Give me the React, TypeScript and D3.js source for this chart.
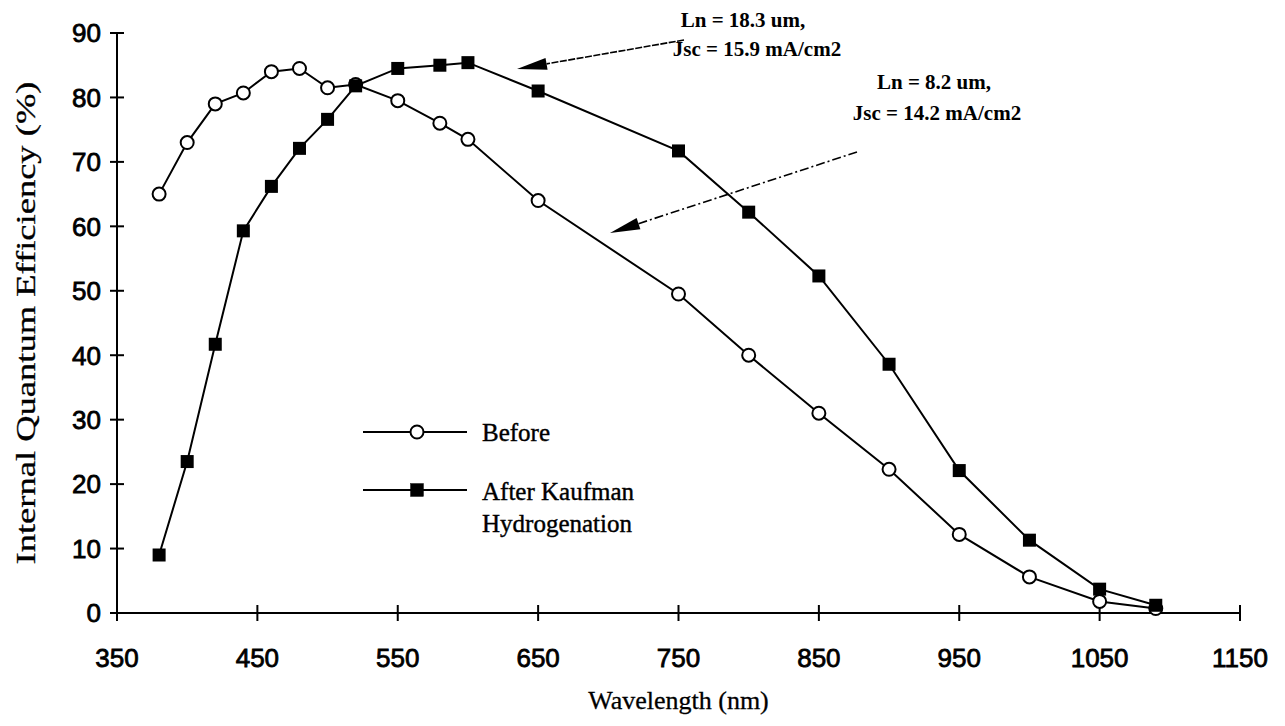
import React from 'react';
import * as d3 from 'd3';

// wavelength (nm) of each measurement
const wavelengths = [380, 400, 420, 440, 460, 480, 500, 520, 550, 580, 600, 650, 750, 800, 850, 900, 950, 1000, 1050, 1090];
// IQE (%) before hydrogenation
const before = [65, 73, 79, 80.7, 84, 84.5, 81.5, 82, 79.5, 76, 73.5, 64, 49.5, 40, 31, 22.3, 12.2, 5.6, 1.8, 0.7];
// IQE (%) after Kaufman hydrogenation
const after = [9, 23.5, 41.7, 59.3, 66.2, 72.1, 76.6, 81.8, 84.5, 85, 85.4, 81, 71.7, 62.2, 52.3, 38.6, 22.1, 11.3, 3.7, 1.2];

const xTicks = [350, 450, 550, 650, 750, 850, 950, 1050, 1150];
const yTicks = [0, 10, 20, 30, 40, 50, 60, 70, 80, 90];

const serif = '"Liberation Serif", "Times New Roman", serif';
const sans = '"Liberation Sans", Arial, sans-serif';

// arrow from (x1,y1) to tip (x2,y2) with a long filled head
function Arrow({ x1, y1, x2, y2, dash }: { x1: number; y1: number; x2: number; y2: number; dash: string }) {
  const a = Math.atan2(y2 - y1, x2 - x1);
  const len = 30;
  const hw = 6;
  const bx = x2 - len * Math.cos(a);
  const by = y2 - len * Math.sin(a);
  const px = -Math.sin(a) * hw;
  const py = Math.cos(a) * hw;
  return (
    <g>
      <line x1={x1} y1={y1} x2={bx} y2={by} stroke="#000" strokeWidth={1.6} strokeDasharray={dash} />
      <path d={`M${x2},${y2} L${bx + px},${by + py} L${bx - px},${by - py} Z`} fill="#000" />
    </g>
  );
}

export default function App() {
  const width = 1285;
  const height = 726;

  const x = d3.scaleLinear().domain([350, 1150]).range([117, 1240]);
  const y = d3.scaleLinear().domain([0, 90]).range([613, 33]);

  const line = d3
    .line<number>()
    .x((_, i) => x(wavelengths[i]))
    .y((d) => y(d));

  return (
    <svg
      width={width}
      height={height}
      style={{ position: 'absolute', left: 0, top: 0, background: '#fff' }}
    >
      {/* axes */}
      <g stroke="#000" strokeWidth={2} fill="none">
        <line x1={x(350)} x2={x(350)} y1={y(90)} y2={y(0)} />
        <line x1={x(350)} x2={x(1150)} y1={y(0)} y2={y(0)} />
        {yTicks.map((t) => (
          <line key={'yt' + t} x1={x(350) - 7} x2={x(350) + 7} y1={y(t)} y2={y(t)} />
        ))}
        {xTicks.map((t) => (
          <line key={'xt' + t} x1={x(t)} x2={x(t)} y1={y(0) - 8} y2={y(0) + 8} />
        ))}
      </g>
      <g fontFamily={sans} fontSize={26} fill="#000" stroke="#000" strokeWidth={0.8}>
        {yTicks.map((t) => (
          <text key={'yl' + t} x={x(350) - 16} y={y(t)} dy="0.36em" textAnchor="end">
            {t}
          </text>
        ))}
        {xTicks.map((t) => (
          <text key={'xl' + t} x={x(t)} y={y(0) + 54} textAnchor="middle">
            {t}
          </text>
        ))}
      </g>
      <text
        transform={`translate(35, ${(y(0) + y(90)) / 2}) rotate(-90)`}
        textAnchor="middle"
        fontFamily={serif}
        fontSize={28}
        textLength={483}
        lengthAdjust="spacingAndGlyphs"
        stroke="#000"
        strokeWidth={0.3}
      >
        Internal Quantum Efficiency (%)
      </text>
      <text
        x={(x(350) + x(1150)) / 2}
        y={709}
        textAnchor="middle"
        fontFamily={serif}
        fontSize={26}
        stroke="#000"
        strokeWidth={0.3}
      >
        Wavelength (nm)
      </text>

      {/* series lines */}
      <path d={line(before) || ''} fill="none" stroke="#000" strokeWidth={2} />
      <path d={line(after) || ''} fill="none" stroke="#000" strokeWidth={2} />

      {before.map((v, i) => (
        <circle key={'b' + i} cx={x(wavelengths[i])} cy={y(v)} r={6.5} fill="#fff" stroke="#000" strokeWidth={2} />
      ))}
      {after.map((v, i) => (
        <rect key={'a' + i} x={x(wavelengths[i]) - 6.5} y={y(v) - 6.5} width={13} height={13} fill="#000" />
      ))}

      {/* legend */}
      <g fontFamily={serif} fontSize={25} stroke="#000" strokeWidth={0.4}>
        <line x1={363} x2={467} y1={432} y2={432} stroke="#000" strokeWidth={2} />
        <circle cx={417} cy={432} r={6.5} fill="#fff" stroke="#000" strokeWidth={2} />
        <text x={482} y={432} dy="0.35em">Before</text>
        <line x1={363} x2={467} y1={490} y2={490} stroke="#000" strokeWidth={2} />
        <rect x={410.5} y={483.5} width={13} height={13} fill="#000" />
        <text x={482} y={491} dy="0.35em">After Kaufman</text>
        <text x={482} y={523} dy="0.35em">Hydrogenation</text>
      </g>

      {/* annotations */}
      <Arrow x1={684} y1={40} x2={517} y2={69} dash="7 1.5" />
      <g fontFamily={serif} fontSize={21} fontWeight="bold" textAnchor="middle">
        <text x={743} y={20} dy="0.35em">Ln = 18.3 um,</text>
        <text x={757} y={49} dy="0.35em">Jsc = 15.9 mA/cm2</text>
        <text x={934} y={82} dy="0.35em">Ln = 8.2 um,</text>
        <text x={937} y={113} dy="0.35em">Jsc = 14.2 mA/cm2</text>
      </g>
      <Arrow x1={857} y1={152} x2={610} y2={233} dash="9 3 2 3" />
    </svg>
  );
}
